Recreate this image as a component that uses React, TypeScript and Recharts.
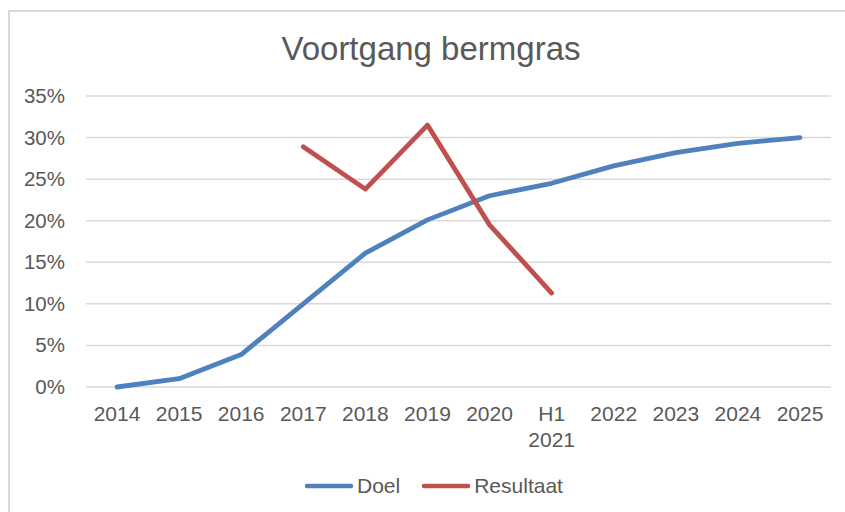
import React from 'react';
import { LineChart, Line, XAxis, YAxis, CartesianGrid } from 'recharts';

// Category labels ("\n" splits into two lines)
const years = ['2014', '2015', '2016', '2017', '2018', '2019', '2020', 'H1\n2021', '2022', '2023', '2024', '2025'];
// Values in percent
const doel = [0, 1.0, 3.9, 10.0, 16.1, 20.1, 23.0, 24.5, 26.6, 28.2, 29.3, 30.0];
const resultaat = [null, null, null, 28.9, 23.8, 31.5, 19.5, 11.3, null, null, null, null];
const yTicks = [0, 5, 10, 15, 20, 25, 30, 35];

const BLUE = '#4f81bd';
const RED = '#c0504d';
const TEXT = '#595959';
const FONT = '"Liberation Sans", Arial, sans-serif';

const data = years.map((year, i) => ({ year, doel: doel[i], resultaat: resultaat[i] }));

const XTick = (props: any) => {
  const { x, y, payload } = props;
  const lines = String(payload.value).split('\n');
  return (
    <g transform={`translate(${x},${y})`}>
      {lines.map((line, i) => (
        <text key={i} x={0} y={34 + i * 26} textAnchor="middle" fill={TEXT} fontSize={21} fontFamily={FONT}>
          {line}
        </text>
      ))}
    </g>
  );
};

const YTick = (props: any) => {
  const { x, y, payload } = props;
  return (
    <text x={x} y={y} dy={7} textAnchor="end" fill={TEXT} fontSize={20.5} fontFamily={FONT}>
      {`${payload.value}%`}
    </text>
  );
};

const LegendItem = ({ color, label }: { color: string; label: string }) => (
  <span style={{ display: 'inline-flex', alignItems: 'center' }}>
    <svg width={50} height={8} style={{ marginRight: 3 }}>
      <line x1={3} y1={4} x2={47} y2={4} stroke={color} strokeWidth={4.5} strokeLinecap="round" />
    </svg>
    <span>{label}</span>
  </span>
);

export default function App() {
  return (
    <div
      style={{
        position: 'fixed',
        left: 8,
        top: 10,
        width: 835,
        height: 500,
        overflow: 'hidden',
        borderLeft: '2px solid #d9d9d9',
        borderTop: '2px solid #d9d9d9',
        fontFamily: FONT,
        background: '#fff',
      }}
    >
      <div
        style={{
          position: 'absolute',
          left: 221,
          top: 20,
          width: 400,
          textAlign: 'center',
          fontSize: 33,
          lineHeight: '33px',
          color: TEXT,
        }}
      >
        Voortgang bermgras
      </div>
      <LineChart width={835} height={500} data={data} margin={{ top: 84, right: 14, left: 0, bottom: 65 }}>
        <CartesianGrid vertical={false} stroke="#d9d9d9" strokeWidth={1.5} />
        <XAxis
          dataKey="year"
          axisLine={false}
          tickLine={false}
          tickSize={0}
          tickMargin={0}
          height={60}
          interval={0}
          padding={{ left: 31, right: 31 }}
          tick={<XTick />}
        />
        <YAxis
          domain={[0, 35]}
          ticks={yTicks}
          axisLine={false}
          tickLine={false}
          tickSize={0}
          tickMargin={21}
          width={76}
          tick={<YTick />}
        />
        <Line
          type="linear"
          dataKey="doel"
          stroke={BLUE}
          strokeWidth={4.8}
          dot={false}
          strokeLinecap="round"
          strokeLinejoin="round"
          isAnimationActive={false}
        />
        <Line
          type="linear"
          dataKey="resultaat"
          stroke={RED}
          strokeWidth={4.8}
          dot={false}
          strokeLinecap="round"
          strokeLinejoin="round"
          isAnimationActive={false}
        />
      </LineChart>
      <div
        style={{
          position: 'absolute',
          left: 294,
          top: 462,
          display: 'flex',
          alignItems: 'center',
          gap: 21,
          fontSize: 21,
          lineHeight: '24px',
          color: TEXT,
        }}
      >
        <LegendItem color={BLUE} label="Doel" />
        <LegendItem color={RED} label="Resultaat" />
      </div>
    </div>
  );
}
